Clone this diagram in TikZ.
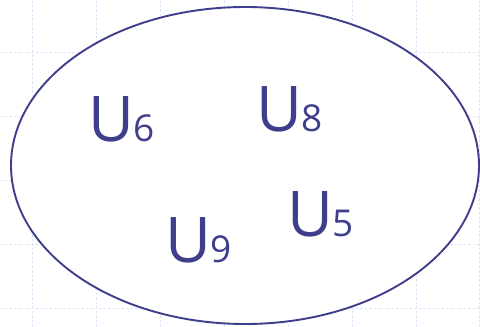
\documentclass[tikz,border=0pt]{standalone}
\usetikzlibrary{shapes.geometric}
\usepackage{fontspec}
\setmainfont{Open Sans}
\definecolor{ink}{RGB}{62,62,140}
\definecolor{gridc}{RGB}{220,227,250}
\tikzset{
  gridline/.style={gridc, line width=1pt, dash pattern=on 2.5pt off 2pt},
  setline/.style={ink, line width=1.9pt, fill=white},
  elem/.style={ink, anchor=base west, inner sep=0pt, outer sep=0pt},
}
\newcommand{\elt}[1]{\fontsize{63}{63}\selectfont U\hspace{-1pt}{\fontsize{37}{37}\selectfont #1}}
\begin{document}
\begin{tikzpicture}[x=1pt,y=-1pt]
\useasboundingbox (0,0) rectangle (480,327);
\fill[white] (0,0) rectangle (480,327);
\foreach \gx in {32,96,160,224,288,352,416,479.5}
  \draw[gridline] (\gx,0) -- (\gx,327);
\foreach \gy in {52,116,180,244,308}
  \draw[gridline] (0,\gy) -- (480,\gy);
\node[setline, draw, ellipse, minimum width=468pt, minimum height=317pt, inner sep=0pt] (set) at (245,165.5) {};
\node[elem] (u6) at (88.5,141) {\elt{6}};
\node[elem] (u8) at (256.5,131) {\elt{8}};
\node[elem] (u9) at (165.5,262) {\elt{9}};
\node[elem] (u5) at (287.5,236.5) {\elt{5}};
\end{tikzpicture}
\end{document}
